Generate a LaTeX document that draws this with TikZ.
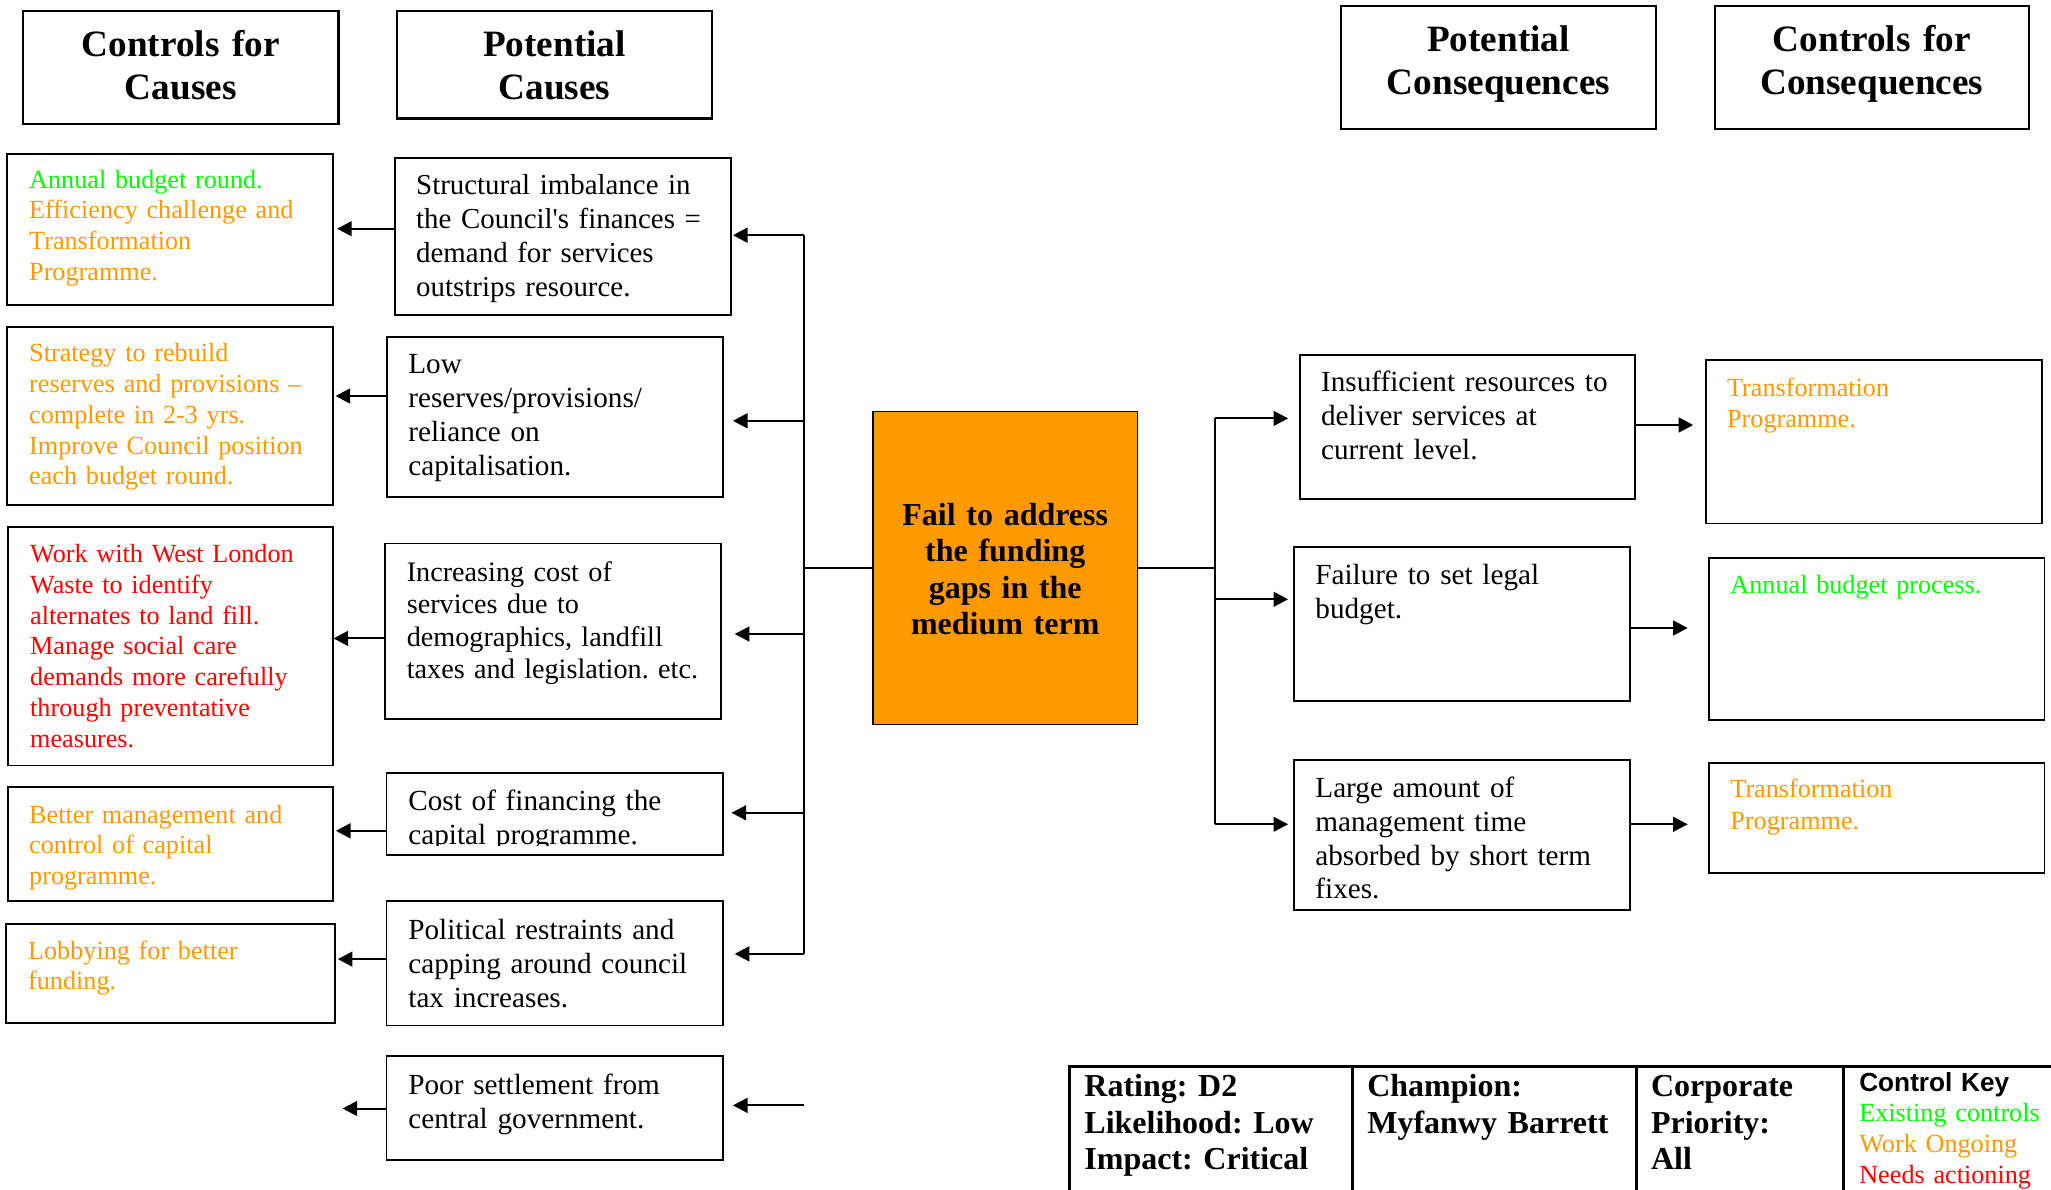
\documentclass[tikz,border=0pt]{standalone}
\usepackage{fontspec}
\setmainfont{Liberation Serif}
\newfontfamily\keysans{Liberation Sans}
\usetikzlibrary{arrows.meta,fit}
\definecolor{exgreen}{RGB}{0,255,0}
\definecolor{wkorange}{RGB}{255,153,0}
\definecolor{ndred}{RGB}{255,0,0}
\begin{document}
\frenchspacing
\begin{tikzpicture}[x=0.5pt,y=-0.5pt,
  box/.style={draw, line width=0.9pt, inner sep=0pt},
  headbox/.style={draw, line width=1.1pt, inner sep=0pt},
  headtext/.style={anchor=base, inner sep=0pt, text width=150pt, align=center,
    font=\fontsize{18.6}{21.5}\selectfont\bfseries},
  riskbox/.style={draw, line width=0.9pt, inner sep=0pt, fill=wkorange},
  risktext/.style={anchor=base, inner sep=0pt, text width=125pt, align=center,
    font=\fontsize{16}{18.2}\selectfont\bfseries},
  ctltext/.style={anchor=base west, inner sep=0pt, text width=152pt, align=left,
    font=\fontsize{13.1}{15.4}\selectfont},
  causetext/.style={anchor=base west, inner sep=0pt, text width=160pt, align=left,
    font=\fontsize{14.6}{17}\selectfont},
  tabtext/.style={anchor=base west, inner sep=0pt, text width=140pt, align=left,
    font=\fontsize{16}{18.25}\selectfont\bfseries},
  link/.style={line width=1pt},
  arr/.style={line width=1pt, -{Triangle[length=7.3pt,width=7.4pt]}},
]
\useasboundingbox (0,0) rectangle (2051,1189);

% column headings
\node[headbox, fit={(23,11) (338.4,123.6)}] (hcc) {};
\node[headbox, fit={(397,11) (711.8,118.5)}] (hpc) {};
\node[headbox, fit={(1341,5.9) (1656,129)}] (hpq) {};
\node[headbox, fit={(1714.6,5.9) (2029,129)}] (hcq) {};
\node[headtext] (hcct) at (hcc.center |- 0,56.8) {Controls for\\Causes};
\node[headtext] (hpct) at (hpc.center |- 0,56.8) {Potential\\Causes};
\node[headtext] (hpqt) at (hpq.center |- 0,51) {Potential\\Consequences};
\node[headtext] (hcqt) at (hcq.center |- 0,51) {Controls for\\Consequences};

% controls for causes
\node[box, fit={(6.8,154) (333,304.8)}] (k1) {};
\node[box, fit={(6.8,326.8) (333,505.2)}] (k2) {};
\node[box, fit={(7.8,527.2) (332.6,765.4)}] (k3) {};
\node[box, fit={(7.8,787.3) (332.6,901.1)}] (k4) {};
\node[box, fit={(6.3,924) (334.7,1023.3)}] (k5) {};

\node[ctltext] (k1t) at (28.8,188) {\textcolor{exgreen}{Annual budget round.}\\
  \textcolor{wkorange}{Efficiency challenge and}\\
  \textcolor{wkorange}{Transformation}\\
  \textcolor{wkorange}{Programme.}};
\node[ctltext, text=wkorange] (k2t) at (28.8,361.6) {Strategy to rebuild\\
  reserves and provisions --\\complete in 2-3 yrs.\\Improve Council position\\
  each budget round.};
\node[ctltext, text=ndred] (k3t) at (29.8,562.4) {Work with West London\\
  Waste to identify\\alternates to land fill.\\Manage social care\\
  demands more carefully\\through preventative\\measures.};
\node[ctltext, text=wkorange] (k4t) at (28.8,823) {Better management and\\
  control of capital\\programme.};
\node[ctltext, text=wkorange] (k5t) at (27.7,959) {Lobbying for better\\funding.};

% potential causes
\node[box, fit={(394.9,157.7) (731,314.7)}] (c1) {};
\node[box, fit={(387,336.8) (722.8,497)}] (c2) {};
\node[box, fit={(385,543.5) (721,719.2)}] (c3) {};
\node[box, fit={(386.5,772.8) (722.8,854.6)}] (c4) {};
\node[box, fit={(386.5,901) (722.8,1025.5)}] (c5) {};
\node[box, fit={(386.5,1056) (722.8,1160)}] (c6) {};

\node[causetext, font=\fontsize{14.45}{17}\selectfont] (c1t) at (415.8,194.6) {Structural imbalance in\\
  the Council\textquotesingle s finances =\\demand for services\\outstrips resource.};
\node[causetext] (c2t) at (408,373.6) {Low\\reserves/provisions/\\reliance on\\capitalisation.};
\node[causetext, font=\fontsize{14.1}{16.2}\selectfont] (c3t) at (406.4,581.3) {Increasing cost of\\
  services due to\\demographics, landfill\\taxes and legislation. etc.};
\begin{scope}
  \clip (c4.north west) rectangle ([yshift=4.8pt]c4.south east);
  \node[causetext] (c4t) at (408,810.6) {Cost of financing the\\capital programme.};
\end{scope}
\node[causetext] (c5t) at (408,939.4) {Political restraints and\\
  capping around council\\tax increases.};
\node[causetext] (c6t) at (408,1094) {Poor settlement from\\central government.};

% the risk
\node[riskbox, fit={(873,411.5) (1137.5,724.5)}] (cen) {};
\node[risktext] (cent) at (cen.center |- 0,525.5) {Fail to address\\the funding\\gaps in the\\medium term};

% potential consequences
\node[box, fit={(1299.6,354.7) (1635,498.6)}] (q1) {};
\node[box, fit={(1294,547) (1630,700.8)}] (q2) {};
\node[box, fit={(1294,760) (1630,910)}] (q3) {};

\node[causetext] (q1t) at (1320.7,391.9) {Insufficient resources to\\
  deliver services at\\current level.};
\node[causetext] (q2t) at (1315,584.4) {Failure to set legal\\budget.};
\node[causetext, font=\fontsize{14.6}{16.8}\selectfont] (q3t) at (1315,797.9) {Large amount of\\
  management time\\absorbed by short term\\fixes.};

% controls for consequences
\node[box, fit={(1705.7,359.8) (2042,523.4)}] (r1) {};
\node[box, fit={(1709,557.6) (2044.5,719.7)}] (r2) {};
\node[box, fit={(1709,762.7) (2044.5,872.6)}] (r3) {};

\node[ctltext, text=wkorange, font=\fontsize{13.1}{15.7}\selectfont] (r1t) at (1726.7,396) {Transformation\\Programme.};
\node[ctltext, text=exgreen] (r2t) at (1730,593) {Annual budget process.};
\node[ctltext, text=wkorange, font=\fontsize{13.1}{15.7}\selectfont] (r3t) at (1730,797.9) {Transformation\\Programme.};

% causes to their controls
\coordinate (k6) at (342.6,1108.5);
\draw[arr, shorten >=1.6pt] (c1.west |- 0,228.7) -- (k1.east |- 0,228.7);
\draw[arr, shorten >=0.8pt] (c2.west |- 0,396) -- (k2.east |- 0,396);
\draw[arr] (c3.west |- 0,638.4) -- (k3.east |- 0,638.4);
\draw[arr, shorten >=1.2pt] (c4.west |- 0,830.8) -- (k4.east |- 0,830.8);
\draw[arr, shorten >=1.1pt] (c5.west |- 0,959.1) -- (k5.east |- 0,959.1);
\draw[arr] (c6.west |- k6) -- (k6);

% risk back to its causes
\coordinate (lbt) at (803.9,235.2);
\coordinate (lbb) at (803.9,953.9);
\coordinate (lb6) at (803.9,1105.4);
\draw[link] (lbt) -- (lbb);
\draw[link] (lbt |- cen.west) -- (cen.west);
\draw[arr, shorten >=0.5pt] (lbt) -- (c1.east |- lbt);
\draw[arr, shorten >=4.6pt] (lbt |- 0,420.8) -- (c2.east |- 0,420.8);
\draw[arr, shorten >=6.4pt] (lbt |- 0,634) -- (c3.east |- 0,634);
\draw[arr, shorten >=3.9pt] (lbt |- 0,812.8) -- (c4.east |- 0,812.8);
\draw[arr, shorten >=5.5pt] (lbb) -- (c5.east |- lbb);
\draw[arr, shorten >=4.6pt] (lb6) -- (c6.east |- lb6);

% risk to its consequences
\coordinate (rbt) at (1215.3,418.4);
\coordinate (rbb) at (1215.3,824.3);
\draw[link] (rbt) -- (rbb);
\draw[link] (cen.east) -- (rbt |- cen.east);
\draw[arr, shorten >=5.3pt] (rbt) -- (q1.west |- rbt);
\draw[arr, shorten >=2.5pt] (rbt |- 0,599.3) -- (q2.west |- 0,599.3);
\draw[arr, shorten >=2.5pt] (rbb) -- (q3.west |- rbb);

% consequences to their controls
\draw[arr, shorten >=5.8pt] (q1.east |- 0,425) -- (r1.west |- 0,425);
\draw[arr, shorten >=10.2pt] (q2.east |- 0,628) -- (r2.west |- 0,628);
\draw[arr, shorten >=10.2pt] (q3.east |- 0,824.3) -- (r3.west |- 0,824.3);

% rating table
\draw[line width=1.5pt] (1069.4,1066.8) rectangle (2080,1220);
\draw[line width=1.5pt] (1352,1066.8) -- (1352,1220);
\draw[line width=1.5pt] (1636,1066.8) -- (1636,1220);
\draw[line width=1.5pt] (1843.5,1066.8) -- (1843.5,1220);
\node[tabtext] (rating) at (1084,1096.7) {Rating: D2\\Likelihood: Low\\Impact: Critical};
\node[tabtext] (champ) at (1366.9,1096.7) {Champion:\\Myfanwy Barrett};
\node[tabtext] (prio) at (1650.6,1096.7) {Corporate\\Priority:\\All};
\node[ctltext, font=\fontsize{13.1}{15.35}\selectfont] (ckey) at (1858.9,1091) {{\keysans\bfseries Control Key}\\
  \textcolor{exgreen}{Existing controls}\\
  \textcolor{wkorange}{Work Ongoing}\\
  \textcolor{ndred}{Needs actioning}};
\end{tikzpicture}
\end{document}
